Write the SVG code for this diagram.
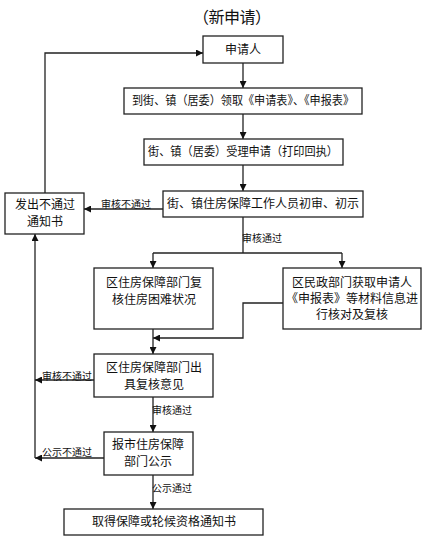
<svg xmlns="http://www.w3.org/2000/svg" width="427" height="541" viewBox="0 0 427 541">
<defs>
<style>
.box{fill:#fff;stroke:#222;stroke-width:1.3}
.t{font-family:"Liberation Sans","Noto Sans CJK SC",sans-serif;font-size:12px;fill:#111;text-anchor:middle;dominant-baseline:central}
.lb{font-family:"Liberation Sans","Noto Sans CJK SC",sans-serif;font-size:10px;fill:#111;dominant-baseline:central}
.ln{fill:none;stroke:#222;stroke-width:1.3}
</style>
<marker id="ah" viewBox="0 0 10 10" refX="10" refY="5" markerWidth="7" markerHeight="7" markerUnits="userSpaceOnUse" orient="auto">
<path d="M0,0 L10,5 L0,10 z" fill="#111"/>
</marker>
</defs>
<rect width="427" height="541" fill="#fff"/>
<text x="232" y="17" class="t" style="font-size:16px" textLength="78" lengthAdjust="spacing">（新申请）</text>

<g id="connectors">
<path class="ln" d="M45,193 V53 H203" marker-end="url(#ah)"/>
<path class="ln" d="M243,63 V88" marker-end="url(#ah)"/>
<path class="ln" d="M243,114 V139" marker-end="url(#ah)"/>
<path class="ln" d="M243,165 V191" marker-end="url(#ah)"/>
<path class="ln" d="M163,209 H84" marker-end="url(#ah)"/>
<text x="101" y="204" class="lb">审核不通过</text>
<path class="ln" d="M243,217 V253"/>
<text x="242" y="238" class="lb">审核通过</text>
<path class="ln" d="M153,253 H342"/>
<path class="ln" d="M153,253 V268" marker-end="url(#ah)"/>
<path class="ln" d="M342,253 V268" marker-end="url(#ah)"/>
<path class="ln" d="M283,303 H243 V338 H153" marker-end="url(#ah)"/>
<path class="ln" d="M153,329 V354" marker-end="url(#ah)"/>
<path class="ln" d="M94,380 H35" marker-end="url(#ah)"/>
<text x="42" y="376" class="lb">审核不通过</text>
<path class="ln" d="M153,397 V432" marker-end="url(#ah)"/>
<text x="152" y="410" class="lb">审核通过</text>
<path class="ln" d="M104,458 H35" marker-end="url(#ah)"/>
<text x="42" y="452" class="lb">公示不通过</text>
<path class="ln" d="M35,458 V234" marker-end="url(#ah)"/>
<path class="ln" d="M153,475 V509" marker-end="url(#ah)"/>
<text x="152" y="488" class="lb">公示通过</text>
</g>

<g id="n1"><rect class="box" x="203" y="36" width="80" height="27"/><text x="243" y="50" class="t">申请人</text></g>
<g id="n2"><rect class="box" x="124" y="88" width="238" height="26"/><text x="243" y="101" class="t" textLength="222" lengthAdjust="spacingAndGlyphs">到街、镇（居委）领取《申请表》、《申报表》</text></g>
<g id="n3"><rect class="box" x="144" y="139" width="199" height="26"/><text x="243" y="152" class="t" textLength="190" lengthAdjust="spacingAndGlyphs">街、镇（居委）受理申请（打印回执）</text></g>
<g id="n4"><rect class="box" x="163" y="191" width="200" height="26"/><text x="263" y="204" class="t">街、镇住房保障工作人员初审、初示</text></g>
<g id="n5"><rect class="box" x="5" y="193" width="79" height="41"/><text x="45" y="205" class="t">发出不通过</text><text x="45" y="222" class="t">通知书</text></g>
<g id="n6"><rect class="box" x="94" y="268" width="119" height="61"/><text x="154" y="283" class="t">区住房保障部门复</text><text x="154" y="300" class="t">核住房困难状况</text></g>
<g id="n7"><rect class="box" x="283" y="268" width="138" height="61"/><text x="352" y="283" class="t">区民政部门获取申请人</text><text x="352" y="299" class="t">《申报表》等材料信息进</text><text x="352" y="315" class="t">行核对及复核</text></g>
<g id="n8"><rect class="box" x="94" y="354" width="119" height="43"/><text x="154" y="368" class="t">区住房保障部门出</text><text x="154" y="385" class="t">具复核意见</text></g>
<g id="n9"><rect class="box" x="104" y="432" width="89" height="43"/><text x="148" y="445" class="t">报市住房保障</text><text x="148" y="462" class="t">部门公示</text></g>
<g id="n10"><rect class="box" x="64" y="509" width="199" height="26"/><text x="164" y="522" class="t">取得保障或轮候资格通知书</text></g>
</svg>
